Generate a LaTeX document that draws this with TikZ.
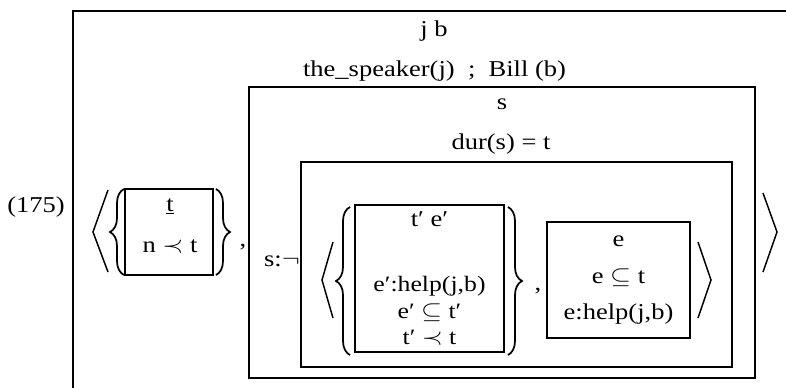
\documentclass[tikz,border=0pt]{standalone}
\usepackage{fontspec}
\setmainfont{Liberation Serif}
\usepackage{graphicx}
\usetikzlibrary{decorations.pathreplacing}
\newcommand{\HS}[1]{\scalebox{1.17}[1]{#1}}
\begin{document}
\begin{tikzpicture}[x=0.75pt,y=-0.75pt,
  box/.style={line width=2pt},
  ang/.style={line width=1.1pt, line join=miter},
  brc/.style={line width=1.3pt, decorate, decoration={brace, amplitude=#1}},
  txt/.style={inner sep=0pt, anchor=base, font=\fontsize{17}{20}\selectfont}]
\useasboundingbox (0,0) rectangle (786,387);
\clip (0,0) rectangle (786,387);
% outer box (extends beyond the picture)
\draw[box] (73,400) -- (73,11) -- (800,11);
% middle box
\draw[box] (249,87) rectangle (755,378);
% inner box
\draw[box] (301,162) rectangle (732,367);
% small box
\draw[box] (125,189) rectangle (213,275);
% t' e' box
\draw[box] (355,205) rectangle (504,352);
% e box
\draw[box] (547,222) rectangle (690,338);

% angle brackets
\draw[ang] (108,190) -- (93,232) -- (108,272);
\draw[ang] (333,242) -- (322,280) -- (333,318);
\draw[ang] (698,242) -- (711,280) -- (698,318);
\draw[ang] (763,193) -- (777,232) -- (763,272);

% braces
\draw[brc=10.5pt] (124,275) -- (124,189);
\draw[brc=10.5pt] (216,189) -- (216,275);
\draw[brc=10.5pt] (350,355) -- (350,207);
\draw[brc=10.5pt] (508,207) -- (508,355);

% texts
\node[txt] (jb) at (434,36) {\HS{j b}};
\node[txt] (spk) at (434.5,76) {\HS{the\_speaker(j)\hspace{0.5em};\hspace{0.5em}Bill (b)}};
\node[txt] (sref) at (502,109) {\HS{s}};
\node[txt] (dur) at (501,149) {\HS{dur(s) = t}};
\node[txt, anchor=base east] (num) at (65,212) {\HS{(175)}};
\node[txt] (tu) at (170,211) {\HS{\underline{t}}};
\node[txt] (nt) at (170,252) {\HS{n $\prec$ t}};
\node[txt] (c1) at (243,246) {\HS{,}};
\node[txt, anchor=base east] (sneg) at (300,266) {\HS{s:$\neg$}};
\node[txt] (te) at (429.5,226) {\HS{t′ e′}};
\node[txt, anchor=north, align=center, font=\fontsize{16.5}{20}\selectfont] (cond) at (429.5,276)
  {\HS{e′:help(j,b)}\\ \HS{e′ $\subseteq$ t′}\\ \HS{t′ $\prec$ t}};
\node[txt] (c2) at (538,290) {\HS{,}};
\node[txt] (e) at (618.5,246) {\HS{e}};
\node[txt] (es2) at (618.5,283) {\HS{e $\subseteq$ t}};
\node[txt] (eh2) at (618.5,319) {\HS{e:help(j,b)}};
\end{tikzpicture}
\end{document}
